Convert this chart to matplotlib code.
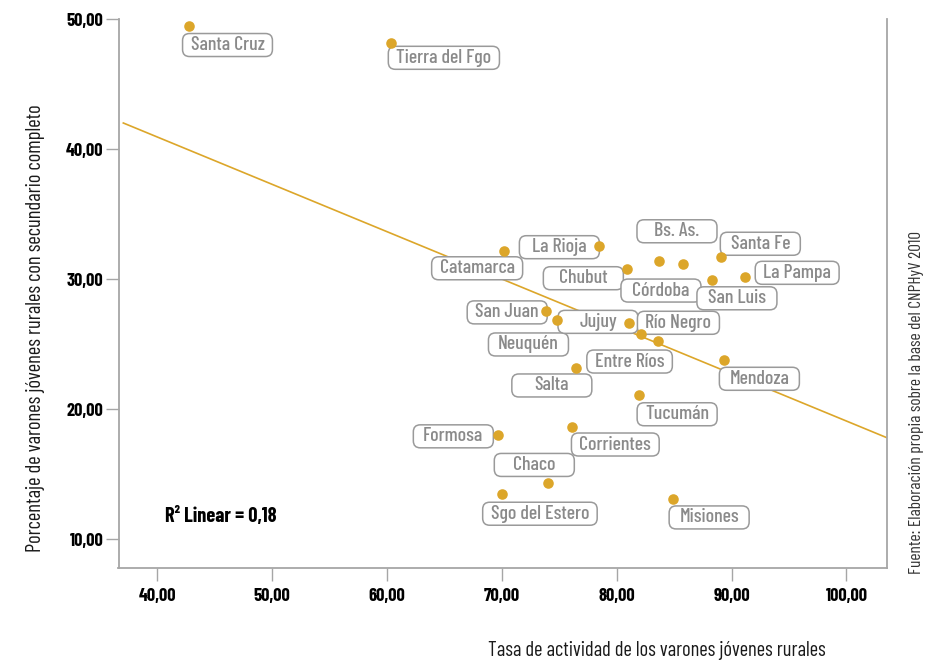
import numpy as np
import matplotlib
matplotlib.use('Agg')
import matplotlib.pyplot as plt
from matplotlib import font_manager as fm
from matplotlib.patches import FancyBboxPatch
from matplotlib.transforms import IdentityTransform

provinces = ["Santa Cruz", "Tierra del Fgo", "Catamarca", "La Rioja", "Chubut",
             "Córdoba", "Bs. As.", "Santa Fe", "La Pampa", "San Luis",
             "San Juan", "Neuquén", "Jujuy", "Río Negro", "Entre Ríos",
             "Mendoza", "Salta", "Tucumán", "Formosa", "Corrientes",
             "Chaco", "Sgo del Estero", "Misiones"]
actividad = [42.81, 60.34, 70.20, 78.49, 80.88,
             83.72, 85.81, 89.06, 91.18, 88.33,
             73.86, 74.84, 81.11, 82.15, 83.60,
             89.37, 76.44, 81.95, 69.65, 76.09,
             74.00, 70.05, 84.91]
secundario = [49.46, 48.17, 32.18, 32.57, 30.80,
              31.39, 31.18, 31.72, 30.14, 29.91,
              27.52, 26.86, 26.60, 25.76, 25.24,
              23.76, 23.17, 21.11, 17.99, 18.63,
              14.33, 13.50, 13.10]
x_ticks = [40, 50, 60, 70, 80, 90, 100]
y_ticks = [10, 20, 30, 40, 50]
r2_text = "R² Linear = 0,18"
x_label = "Tasa de actividad de los varones jóvenes rurales"
y_label = "Porcentaje de varones jóvenes rurales con secundario completo"
source = "Fuente: Elaboración propia sobre la base del CNPHyV 2010"

# label offsets in pixels (dx right, dy down) from each point
label_offsets = {
    "Santa Cruz": (38, 19), "Tierra del Fgo": (53, 15), "Catamarca": (-27, 17.5),
    "La Rioja": (-40, 1.5), "Chubut": (-43.5, 9.5), "Córdoba": (1.5, 29.5),
    "Bs. As.": (-6.5, -32.5), "Santa Fe": (39.5, -13), "La Pampa": (52, -4.5),
    "San Luis": (24.5, 18), "San Juan": (-39, 1), "Neuquén": (-29, 24.5),
    "Jujuy": (-31.5, -1.5), "Río Negro": (37, -11.5), "Entre Ríos": (-28.5, 20.5),
    "Mendoza": (35, 18.5), "Salta": (-24, 17.5), "Tucumán": (38, 19.5),
    "Formosa": (-44.5, 1), "Corrientes": (43.5, 17.5), "Chaco": (-13.5, -18),
    "Sgo del Estero": (37.5, 20), "Misiones": (36, 18.5),
}

names = {f.name for f in fm.fontManager.ttflist}
font = 'DejaVu Sans'
for c in ['Barlow Condensed', 'Roboto Condensed', 'Archivo Narrow']:
    if c in names:
        font = c
        break
plt.rcParams['font.family'] = [font, 'DejaVu Sans']

gold = '#DCA62A'
grey_axis = '#A6A6A6'
label_grey = '#8A8A8A'

fig = plt.figure(figsize=(9.27, 6.65), dpi=100)
ax = fig.add_axes([118.5 / 927, 1 - 568 / 665, (886.7 - 118.5) / 927, (568 - 19) / 665])
ax.set_xlim(36.63, 103.5)
ax.set_ylim(7.79, 50.0)

ax.spines['top'].set_visible(False)
for s in ['left', 'bottom', 'right']:
    ax.spines[s].set_color(grey_axis)
    ax.spines[s].set_linewidth(1.3)
ax.set_xticks(x_ticks)
ax.set_yticks(y_ticks)
ax.set_xticklabels([f"{v:.2f}".replace('.', ',') for v in x_ticks], fontweight='bold', fontsize=13.5)
ax.set_yticklabels([f"{v:.2f}".replace('.', ',') for v in y_ticks], fontweight='bold', fontsize=13.5)
ax.tick_params(axis='both', direction='out', length=9.4, width=1.0, color=grey_axis)
ax.tick_params(axis='x', pad=5)
ax.tick_params(axis='y', pad=1.5)

# regression line
coef = np.polyfit(actividad, secundario, 1)
xx = np.array([37.05, 103.5])
ax.plot(xx, np.polyval(coef, xx), color=gold, lw=1.2, zorder=1)

ax.scatter(actividad, secundario, s=58, color=gold, zorder=3, linewidths=0)

texts = []
for p, x, y in zip(provinces, actividad, secundario):
    dx, dy = label_offsets[p]
    t = ax.annotate(p, (x, y), xytext=(dx, -dy), textcoords='offset pixels',
                    ha='center', va='center', fontsize=13, color=label_grey,
                    fontweight='medium', zorder=4)
    texts.append((t, x, y, dx, dy))

r2 = ax.text(165 / 927, 1 - 517 / 665, r2_text, transform=fig.transFigure, fontsize=13.5,
             fontweight='bold', ha='left', va='center')
yl = fig.text(36 / 927, 1 - 328 / 665, y_label, rotation=90, ha='center', va='center',
              fontsize=14, color='#1a1a1a')
xl = fig.text(657 / 927, 1 - 650 / 665, x_label, ha='center', va='center', fontsize=14,
              color='#1a1a1a')
src = fig.text(917 / 927, 1 - 402 / 665, source, rotation=90, ha='center', va='center',
               fontsize=11, color='#333333')

fig.canvas.draw()
rend = fig.canvas.get_renderer()


def fit(t, target, vertical=False):
    bb = t.get_window_extent(rend)
    cur = bb.height if vertical else bb.width
    t.set_fontsize(t.get_fontsize() * target / cur)


fit(yl, 449, vertical=True)
fit(xl, 338)
fit(src, 341, vertical=True)
fit(r2, 112)
# tick labels: "50,00" ~37px wide
tl = ax.get_yticklabels()[-1]
s_tick = tl.get_fontsize() * 37 / tl.get_window_extent(rend).width
for lab in ax.get_xticklabels() + ax.get_yticklabels():
    lab.set_fontsize(s_tick)
# label font: "Santa Cruz" ~74px
t0 = texts[0][0]
s_lab = t0.get_fontsize() * 74 / t0.get_window_extent(rend).width
for t, *_ in texts:
    t.set_fontsize(s_lab)

fig.canvas.draw()
for t, x, y, dx, dy in texts:
    bb = t.get_window_extent(rend)
    w = max(bb.width + 16, 80)
    h = 23
    cx, cy = ax.transData.transform((x, y))
    cx += dx
    cy -= dy
    box = FancyBboxPatch((cx - w / 2, cy - h / 2), w, h,
                         boxstyle='round,pad=0,rounding_size=7',
                         transform=IdentityTransform(), facecolor='white',
                         edgecolor='#9A9A9A', linewidth=1.1, zorder=2)
    ax.add_artist(box)

fig.savefig('out.png', dpi=100)
